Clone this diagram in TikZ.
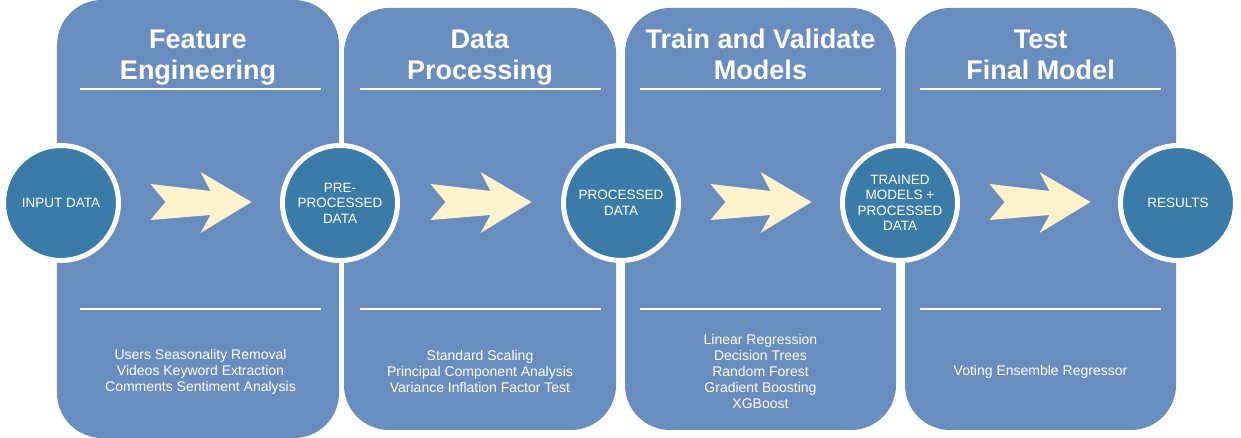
\documentclass[tikz,border=0pt]{standalone}
\usepackage{fontspec}
\setmainfont{Liberation Sans}
\usepackage{tikz}
\definecolor{panelblue}{HTML}{6A8DBF}
\definecolor{stageblue}{HTML}{3A7BA8}
\definecolor{arrowcream}{HTML}{FFF2CC}

\begin{document}
\begin{tikzpicture}[x=1bp,y=1bp]
\tikzstyle{panel}=[rectangle,rounded corners=45bp,fill=panelblue,inner sep=0]
\tikzstyle{title}=[text=white,align=center,inner sep=0,font=\bfseries\fontsize{27bp}{31bp}\selectfont]
\tikzstyle{steps}=[text=white,align=center,inner sep=0,font=\fontsize{14bp}{16bp}\selectfont]
\tikzstyle{stage}=[circle,fill=stageblue,draw=white,line width=5bp,minimum size=115bp,inner sep=0,text=white,align=center,font=\fontsize{13.5bp}{15.5bp}\selectfont]
\tikzstyle{sepline}=[white,line width=2bp]
\useasboundingbox (0,0) rectangle (1241,438);
% panels
\node[panel,minimum width=282bp,minimum height=438bp] (p1) at (198,219) {};
\node[panel,minimum width=272bp,minimum height=422bp] (p2) at (480,219) {};
\node[panel,minimum width=271bp,minimum height=422bp] (p3) at (760.5,219) {};
\node[panel,minimum width=271bp,minimum height=422bp] (p4) at (1040.5,219) {};
\foreach \x in {200.5,480,760.5,1040.5} {
  \draw[sepline] (\x-120.5,349) -- (\x+120.5,349);
  \draw[sepline] (\x-120.5,129) -- (\x+120.5,129);
}
% titles
\node[title] (t1) at (198,380) {\strut Feature\\\strut Engineering};
\node[title] (t2) at (480,380) {\strut Data\\\strut Processing};
\node[title] (t3) at (760.5,380) {\strut Train and Validate\\\strut Models};
\node[title] (t4) at (1040.5,380) {\strut Test\\\strut Final Model};
% methods
\node[steps] (m1) at (200.5,66) {Users Seasonality Removal\\Videos Keyword Extraction\\Comments Sentiment Analysis};
\node[steps] (m2) at (480,66) {Standard Scaling\\Principal Component Analysis\\Variance Inflation Factor Test};
\node[steps] (m3) at (760.5,66) {Linear Regression\\Decision Trees\\Random Forest\\Gradient Boosting\\XGBoost};
\node[steps] (m4) at (1040.5,66) {Voting Ensemble Regressor};
% arrows
\foreach \x in {200.5,480.5,760.5,1039.5} {
  \fill[arrowcream,shift={(\x,236)}] (-50,18) -- (10,11) -- (0,30) -- (51,0) -- (0,-31) -- (10,-13) -- (-50,-18) -- (-35,0) -- cycle;
}
% stages
\node[stage] (in) at (61,235) {INPUT DATA};
\node[stage] (pre) at (340,235) {PRE-\\PROCESSED\\DATA};
\node[stage] (proc) at (621,235) {PROCESSED\\DATA};
\node[stage] (trained) at (900,235) {TRAINED\\MODELS +\\PROCESSED\\DATA};
\node[stage] (res) at (1178,235) {RESULTS};
\end{tikzpicture}
\end{document}
